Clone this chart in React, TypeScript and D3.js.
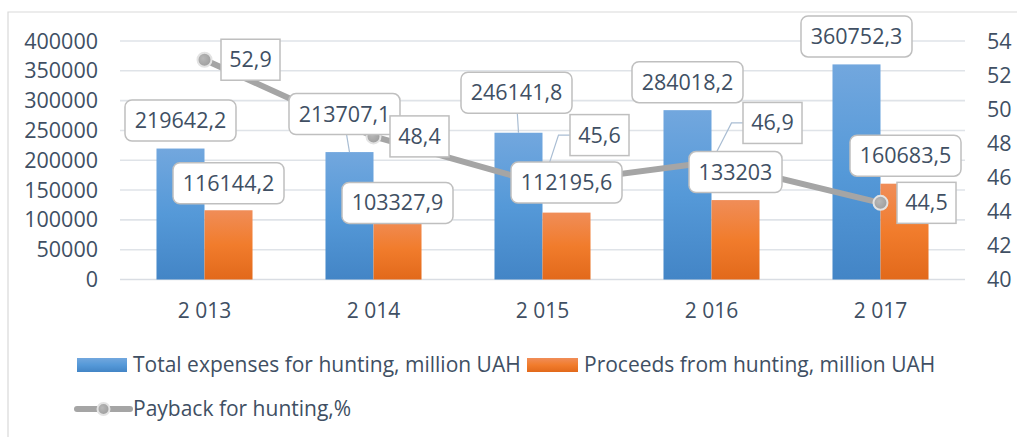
import React from 'react';
import * as d3 from 'd3';

// data
const years = [2013, 2014, 2015, 2016, 2017];
const expenses = [219642.2, 213707.1, 246141.8, 284018.2, 360752.3];
const proceeds = [116144.2, 103327.9, 112195.6, 133203, 160683.5];
const payback = [52.9, 48.4, 45.6, 46.9, 44.5];
const leftTicks = [0, 50000, 100000, 150000, 200000, 250000, 300000, 350000, 400000];
const rightTicks = [40, 42, 44, 46, 48, 50, 52, 54];
const seriesNames = [
  'Total expenses for hunting, million UAH',
  'Proceeds from hunting, million UAH',
  'Payback for hunting,%',
];

// label placement (offset of box centre from the mark, px)
const expOff = [[0, -28], [-5, -38], [-2, -40], [0, -28], [0, -28]];
const procOff = [[0, -27], [0, -15], [0, -30], [0, -28], [1, -28]];
const payOff = [[46, 0], [46, 0], [57, -49], [61, -39], [46, 0]];
const expLeader = [false, true, true, false, false];
const payLeader = [false, false, true, true, false];

const W = 1017;
const H = 437;
const margin = { top: 41, bottom: 158, left: 120, right: 52 };
const TEXT = '#404f63';
const FONT = "'Open Sans', sans-serif";
const FS = 21.5;

const fmtYear = d3.formatLocale({ decimal: ',', thousands: ' ', grouping: [3], currency: ['', ''] }).format(',');
const fmtVal = (v: number) => String(v).replace('.', ',');

function Box({ cx, cy, text, w, rounded }: { cx: number; cy: number; text: string; w: number; rounded: boolean }) {
  const h = 41;
  return (
    <g>
      <rect x={cx - w / 2} y={cy - h / 2} width={w} height={h} rx={rounded ? 7 : 0}
        fill="white" stroke="#bfbfbf" strokeWidth={1.5} />
      <text x={cx} y={cy} dy="0.35em" textAnchor="middle" fontSize={FS} fill={TEXT}>{text}</text>
    </g>
  );
}

export default function App() {
  const x0 = d3.scaleBand<number>().domain(years).range([margin.left, W - margin.right]).padding(0);
  const x1 = d3.scaleBand<string>().domain(['exp', 'proc']).range([0, x0.bandwidth()]).paddingInner(0).paddingOuter(0.76);
  const y = d3.scaleLinear().domain([0, 400000]).range([H - margin.bottom + 0.5, margin.top]);
  const y2 = d3.scaleLinear().domain([40, 54]).range([H - margin.bottom + 0.5, margin.top]);
  const cx = (yr: number) => (x0(yr) ?? 0) + x0.bandwidth() / 2;

  const line = d3.line<number>()
    .x((d, i) => cx(years[i]))
    .y(d => y2(d));

  const bw = x1.bandwidth();

  return (
    <svg width={W} height={H} style={{ position: 'absolute', left: 0, top: 0 }} fontFamily={FONT}>
      <defs>
        <linearGradient id="gBlue" x1="0" y1="0" x2="0" y2="1">
          <stop offset="0" stopColor="#72a7de" />
          <stop offset="0.5" stopColor="#5599d8" />
          <stop offset="1" stopColor="#4385c6" />
        </linearGradient>
        <linearGradient id="gOrange" x1="0" y1="0" x2="0" y2="1">
          <stop offset="0" stopColor="#f08d58" />
          <stop offset="0.5" stopColor="#f17c2c" />
          <stop offset="1" stopColor="#e2691b" />
        </linearGradient>
        <radialGradient id="gDot" cx="0.4" cy="0.4" r="0.7">
          <stop offset="0" stopColor="#b8b8b8" />
          <stop offset="1" stopColor="#9a9a9a" />
        </radialGradient>
      </defs>
      <rect width={W} height={H} fill="white" />
      {/* chart frame */}
      <path d={`M8,${H} V12 H${W}`} fill="none" stroke="#d9d9d9" strokeWidth={1.2} />

      {/* grid */}
      {leftTicks.map(t => (
        <line key={t} x1={margin.left} x2={W - margin.right} y1={y(t)} y2={y(t)}
          stroke={t === 0 ? '#d9dde3' : '#dfe3e8'} strokeWidth={1.6} />
      ))}

      {/* left axis */}
      {leftTicks.map(t => (
        <text key={t} x={98} y={y(t)} dy="0.35em" textAnchor="end" fontSize={FS} fill={TEXT}>{t}</text>
      ))}
      {/* right axis */}
      {rightTicks.map(t => (
        <text key={t} x={987} y={y2(t)} dy="0.35em" textAnchor="start" fontSize={FS} fill={TEXT}>{t}</text>
      ))}
      {/* x axis labels */}
      {years.map(yr => (
        <text key={yr} x={cx(yr)} y={311} dy="0.35em" textAnchor="middle" fontSize={21} fill={TEXT}>{fmtYear(yr)}</text>
      ))}

      {/* bars */}
      {years.map((yr, i) => (
        <g key={yr} transform={`translate(${x0(yr)},0)`}>
          <rect x={x1('exp')} y={y(expenses[i])} width={bw} height={y(0) - y(expenses[i])} fill="url(#gBlue)" />
          <rect x={x1('proc')} y={y(proceeds[i])} width={bw} height={y(0) - y(proceeds[i])} fill="url(#gOrange)" />
        </g>
      ))}

      {/* leader lines */}
      {years.map((yr, i) => {
        if (!expLeader[i]) return null;
        const bx = (x0(yr) ?? 0) + (x1('exp') ?? 0) + bw / 2;
        const by = y(expenses[i]);
        return <line key={'el' + yr} x1={bx} y1={by} x2={bx + expOff[i][0] * 0.6} y2={by + expOff[i][1] + 20}
          stroke="#a9bdd3" strokeWidth={1.2} />;
      })}
      {years.map((yr, i) => {
        if (!payLeader[i]) return null;
        const px = cx(yr);
        const py = y2(payback[i]);
        const bx = px + payOff[i][0] - 29;
        const by = py + payOff[i][1];
        return <polyline key={'pl' + yr} points={`${px},${py} ${bx - 12},${by} ${bx},${by}`}
          fill="none" stroke="#a9bdd3" strokeWidth={1.2} />;
      })}

      {/* payback line */}
      <path d={line(payback) ?? ''} fill="none" stroke="#a5a5a5" strokeWidth={6} strokeLinejoin="round" />
      {payback.map((v, i) => (
        <circle key={i} cx={cx(years[i])} cy={y2(v)} r={7} fill="url(#gDot)" stroke="#e3e3e3" strokeWidth={2} />
      ))}

      {/* bar labels */}
      {years.map((yr, i) => {
        const bx = (x0(yr) ?? 0) + (x1('exp') ?? 0) + bw / 2;
        return <Box key={'e' + yr} cx={bx + expOff[i][0]} cy={y(expenses[i]) + expOff[i][1]}
          text={fmtVal(expenses[i])} w={111} rounded />;
      })}
      {years.map((yr, i) => {
        const bx = (x0(yr) ?? 0) + (x1('proc') ?? 0) + bw / 2;
        const t = fmtVal(proceeds[i]);
        return <Box key={'p' + yr} cx={bx + procOff[i][0]} cy={y(proceeds[i]) + procOff[i][1]}
          text={t} w={t.length > 6 ? 111 : 93} rounded />;
      })}
      {/* payback labels */}
      {years.map((yr, i) => (
        <Box key={'y' + yr} cx={cx(yr) + payOff[i][0]} cy={y2(payback[i]) + payOff[i][1]}
          text={fmtVal(payback[i])} w={59} rounded={false} />
      ))}

      {/* legend */}
      <g fontSize={21} fill={TEXT}>
        <rect x={77} y={358} width={50} height={14} fill="url(#gBlue)" />
        <text x={133} y={365} dy="0.35em">{seriesNames[0]}</text>
        <rect x={527} y={358} width={51} height={14} fill="url(#gOrange)" />
        <text x={584} y={365} dy="0.35em">{seriesNames[1]}</text>
        <line x1={77} x2={130} y1={409} y2={409} stroke="#a5a5a5" strokeWidth={6} strokeLinecap="round" />
        <circle cx={103.5} cy={409} r={6} fill="url(#gDot)" stroke="#e3e3e3" strokeWidth={2} />
        <text x={133} y={409} dy="0.35em">{seriesNames[2]}</text>
      </g>
    </svg>
  );
}
